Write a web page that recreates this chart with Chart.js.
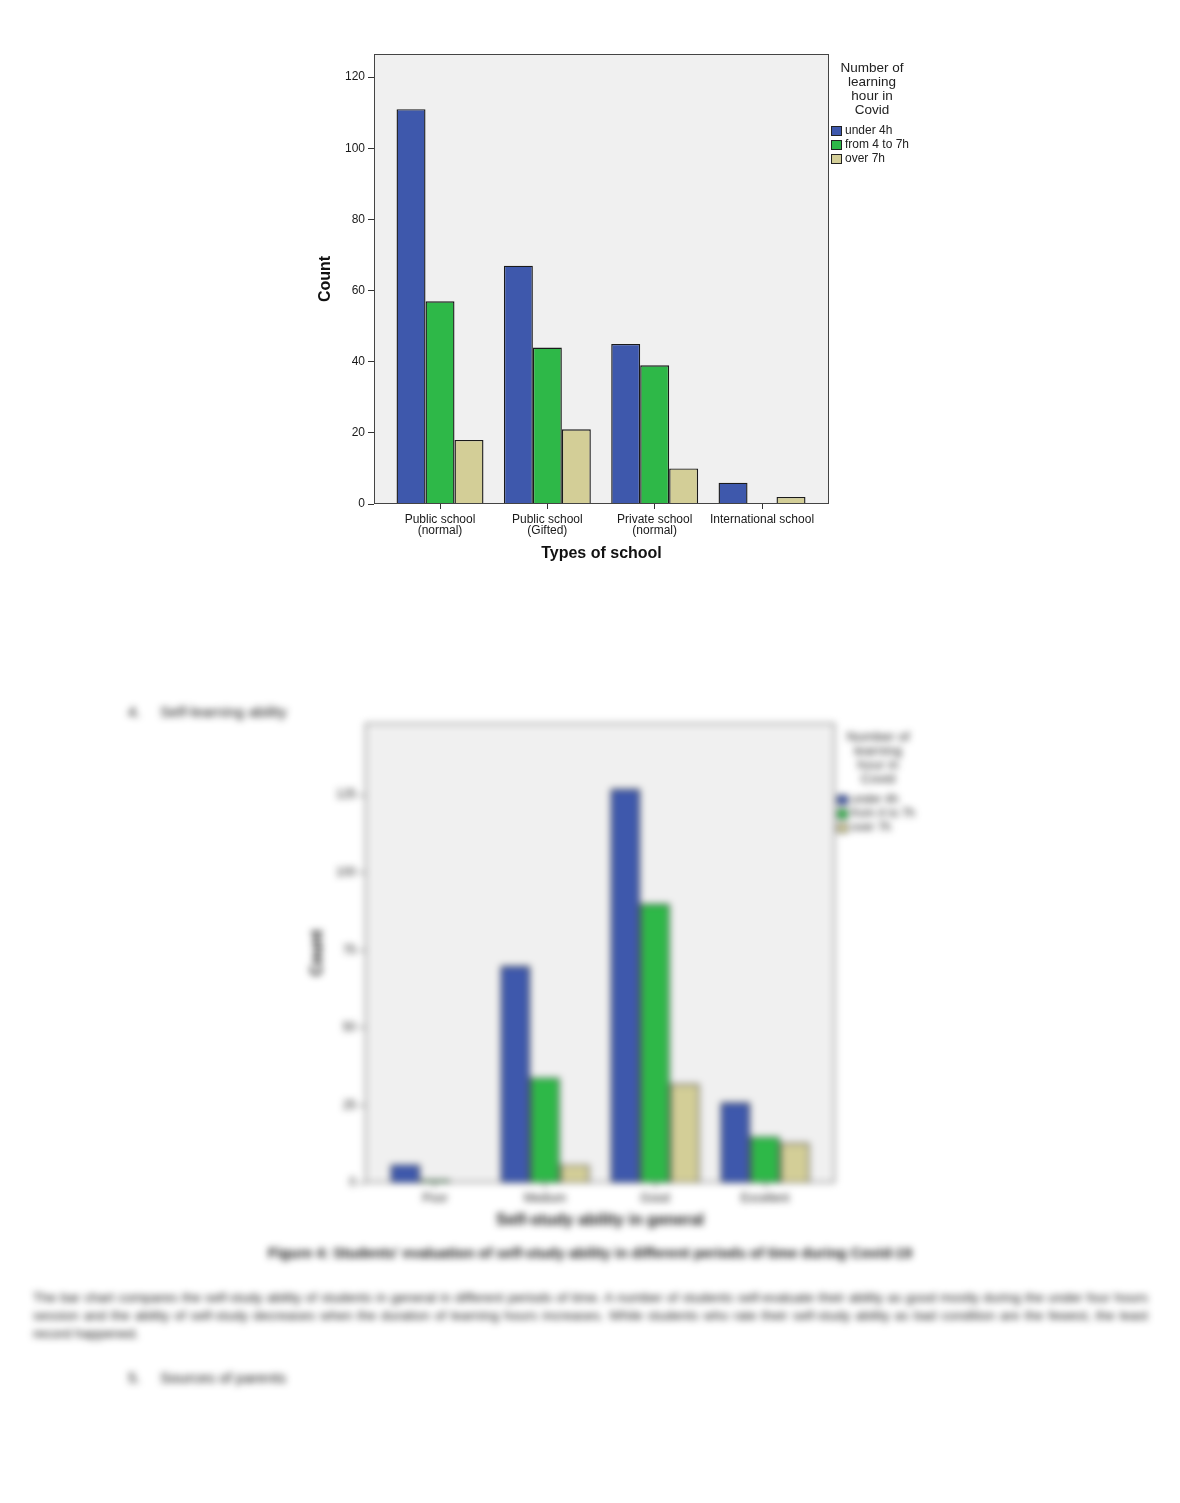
<!DOCTYPE html>
<html>
<head>
<meta charset="utf-8">
<title>Types of school</title>
<script src="https://cdn.jsdelivr.net/npm/chart.js@4.4.1/dist/chart.umd.min.js"></script>
<style>
  body { margin: 0; background: #fff; font-family: "Liberation Sans", Arial, sans-serif; }
  #page { position: relative; width: 1180px; height: 1503px; overflow: hidden; background: #fff; }
  canvas { position: absolute; }
  #schoolChart { left: 300px; top: 40px; }
  #abilityChart { left: 300px; top: 700px; filter: blur(3.5px); }
  .blurred { position: absolute; filter: blur(3.6px); color: #111; }
  .heading { font-size: 15px; }
  #caption { left: 180px; width: 820px; top: 1245px; text-align: center; font-weight: bold; font-size: 14.5px; }
  #para { left: 33px; width: 1115px; top: 1289px; font-size: 13.5px; line-height: 18px; text-align: justify; }
</style>
</head>
<body>
<div id="page">
  <canvas id="schoolChart" width="630" height="540"></canvas>

  <div class="blurred heading" style="left:128px; top:703px;">4.</div>
  <div class="blurred heading" style="left:160px; top:703px;">Self-learning ability</div>

  <canvas id="abilityChart" width="630" height="540"></canvas>

  <div class="blurred" id="caption">Figure 4: Students' evaluation of self-study ability in different periods of time during Covid-19</div>
  <div class="blurred" id="para">The bar chart compares the self-study ability of students in general in different periods of time. A number of students self-evaluate their ability as good mostly during the under four hours session and the ability of self-study decreases when the duration of learning hours increases. While students who rate their self-study ability as bad condition are the fewest, the least record happened.</div>

  <div class="blurred heading" style="left:128px; top:1369px;">5.</div>
  <div class="blurred heading" style="left:160px; top:1369px;">Sources of parents</div>
</div>

<script>
'use strict';

// top chart: types of school
let schoolTypes = [['Public school', '(normal)'], ['Public school', '(Gifted)'],
    ['Private school', '(normal)'], ['International school']];
let under4h = [111, 67, 45, 6];
let from4to7h = [57, 44, 39, 0];
let over7h = [18, 21, 10, 2];
let schoolTicks = [0, 20, 40, 60, 80, 100, 120];

// second chart (blurred in the page): self-study ability
let abilityLevels = ['Poor', 'Medium', 'Good', 'Excellent'];
let abilityUnder4h = [6, 70, 127, 26];
let abilityFrom4to7h = [1, 34, 90, 15];
let abilityOver7h = [0, 6, 32, 13];
let abilityTicks = [0, 25, 50, 75, 100, 125];

let hourGroups = ['under 4h', 'from 4 to 7h', 'over 7h'];
let legendTitle = ['Number of', 'learning', 'hour in', 'Covid'];
let seriesColors = ['#3e58ac', '#2eb848', '#d3ce97'];

const FONT = '"Liberation Sans", Arial, sans-serif';

// grey plot box with a frame, like SPSS output
const plotFrame = {
    id: 'plotFrame',
    beforeDraw(chart) {
        const { ctx, chartArea: a } = chart;
        ctx.save();
        ctx.fillStyle = '#f0f0f0';
        ctx.fillRect(a.left, a.top, a.width, a.height);
        ctx.restore();
    },
    afterDatasetsDraw(chart) {
        const { ctx, chartArea: a } = chart;
        ctx.save();
        ctx.strokeStyle = '#444';
        ctx.lineWidth = 1;
        ctx.strokeRect(a.left + 0.5, a.top + 0.5, a.width - 1, a.height - 1);
        ctx.restore();
    }
};

// legend on the right of the plot box
const hourLegend = {
    id: 'hourLegend',
    afterDraw(chart) {
        const { ctx, chartArea: a } = chart;
        const sets = chart.data.datasets;
        ctx.save();
        ctx.fillStyle = '#222';
        ctx.textBaseline = 'middle';
        ctx.textAlign = 'center';
        ctx.font = '13.5px ' + FONT;
        for (let i = 0; i < legendTitle.length; i++) {
            ctx.fillText(legendTitle[i], a.right + 43, a.top + 14 + i * 14);
        }
        ctx.textAlign = 'left';
        ctx.font = '12px ' + FONT;
        for (let i = 0; i < sets.length; i++) {
            let y = a.top + 77 + i * 14;
            ctx.fillStyle = sets[i].backgroundColor;
            ctx.fillRect(a.right + 2, y - 5, 11, 10);
            ctx.strokeStyle = '#222';
            ctx.strokeRect(a.right + 2.5, y - 4.5, 10, 9);
            ctx.fillStyle = '#222';
            ctx.fillText(sets[i].label, a.right + 16, y);
        }
        ctx.restore();
    }
};

function makeDatasets(seriesList) {
    return seriesList.map((values, i) => ({
        label: hourGroups[i],
        data: values.map((v, j) => ({ x: j, y: v })),
        backgroundColor: seriesColors[i],
        borderColor: '#1a1a1a',
        borderWidth: 1.4,
        borderSkipped: 'bottom',
        categoryPercentage: 0.81,
        barPercentage: 1
    }));
}

function makeChart(canvasId, s) {
    const ctx = document.getElementById(canvasId).getContext('2d');
    const canvasH = ctx.canvas.height;
    const xAxisH = s.xTitleOffset + 12;
    return new Chart(ctx, {
        type: 'bar',
        data: { datasets: makeDatasets(s.series) },
        plugins: [plotFrame, hourLegend],
        options: {
            responsive: false,
            animation: false,
            layout: {
                padding: { left: 0, top: s.top, right: ctx.canvas.width - s.right, bottom: canvasH - s.bottom - xAxisH }
            },
            plugins: { legend: { display: false }, tooltip: { enabled: false } },
            scales: {
                x: {
                    type: 'linear',
                    offset: false,
                    min: s.xMin,
                    max: s.xMax,
                    afterBuildTicks: (scale) => { scale.ticks = s.labels.map((l, i) => ({ value: i })); },
                    afterFit: (scale) => { scale.height = xAxisH; },
                    grid: { drawOnChartArea: false, tickLength: 5, tickColor: '#333', offset: false },
                    border: { display: false },
                    ticks: {
                        autoSkip: false, maxRotation: 0, padding: 5, color: '#1a1a1a',
                        font: { family: FONT, size: 12, lineHeight: 0.95 },
                        callback: (value) => s.labels[value]
                    },
                    title: {
                        display: true, text: s.xTitle, color: '#111',
                        font: { family: FONT, size: 16, weight: 'bold', lineHeight: 1 },
                        padding: { top: 0, bottom: 4 }
                    }
                },
                y: {
                    min: 0,
                    max: s.yMax,
                    afterBuildTicks: (scale) => { scale.ticks = s.ticks.map(v => ({ value: v })); },
                    afterFit: (scale) => { scale.width = s.left; },
                    grid: { drawOnChartArea: false, tickLength: 6, tickColor: '#333' },
                    border: { display: false },
                    ticks: { padding: 3, color: '#1a1a1a', font: { family: FONT, size: 12 } },
                    title: {
                        display: true, text: 'Count', color: '#111',
                        font: { family: FONT, size: 16, weight: 'bold', lineHeight: 1 },
                        padding: { top: s.yTitleX - 8, bottom: 0 }
                    }
                }
            }
        }
    });
}

makeChart('schoolChart', {
    labels: schoolTypes,
    series: [under4h, from4to7h, over7h],
    ticks: schoolTicks,
    left: 74, right: 529, top: 14, bottom: 464,
    xMin: -0.615, xMax: 3.624, yMax: 126.5,
    xTitle: 'Types of school', xTitleOffset: 50, yTitleX: 26
});

makeChart('abilityChart', {
    labels: abilityLevels,
    series: [abilityUnder4h, abilityFrom4to7h, abilityOver7h],
    ticks: abilityTicks,
    left: 65, right: 535, top: 23, bottom: 483,
    xMin: -0.636, xMax: 3.636, yMax: 148.2,
    xTitle: 'Self-study ability in general', xTitleOffset: 38, yTitleX: 18
});
</script>
</body>
</html>
